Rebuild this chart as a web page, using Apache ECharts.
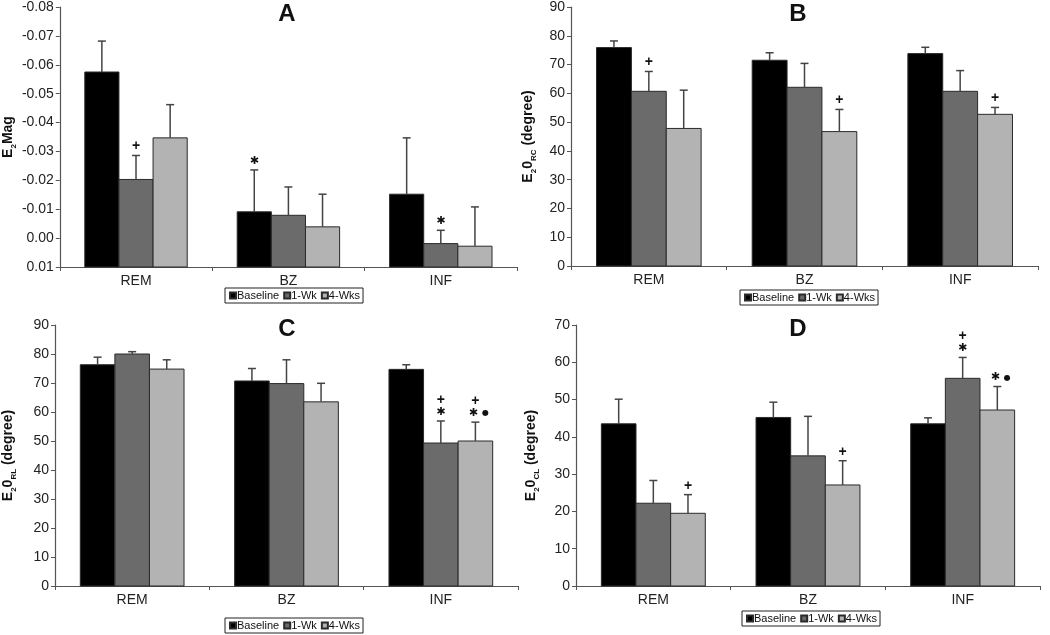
<!DOCTYPE html>
<html>
<head>
<meta charset="utf-8">
<script src="https://cdn.jsdelivr.net/npm/echarts@6/dist/echarts.min.js"></script>
<style>html,body{margin:0;padding:0;background:#fff}#c{width:1050px;height:635px}</style>
</head>
<body>
<div id="c"></div>
<script>
const categories = ['REM', 'BZ', 'INF'];
const seriesNames = ['Baseline', '1-Wk', '4-Wks'];

// Panel A (E2Mag, reversed axis)
const A_baseline = [-0.0575, -0.0091, -0.0152];
const A_baselineErr = [-0.0682, -0.0236, -0.0347];
const A_week1 = [-0.0203, -0.0079, 0.0019];
const A_week1Err = [-0.0286, -0.0177, -0.0027];
const A_weeks4 = [-0.0347, -0.0039, 0.0028];
const A_weeks4Err = [-0.0462, -0.0152, -0.0108];
const A_marks = [['', '*', ''], ['+', '', '*'], ['', '', '']];
const A_ticks = [-0.08, -0.07, -0.06, -0.05, -0.04, -0.03, -0.02, -0.01, 0.00, 0.01];

// Panel B (E2θRC)
const B_baseline = [75.9, 71.5, 73.8];
const B_baselineErr = [78.2, 74.1, 76.0];
const B_week1 = [60.7, 62.1, 60.7];
const B_week1Err = [67.6, 70.4, 67.9];
const B_weeks4 = [47.8, 46.7, 52.7];
const B_weeks4Err = [61.1, 54.4, 55.1];
const B_marks = [['', '', ''], ['+', '', ''], ['', '+', '+']];
const B_ticks = [0, 10, 20, 30, 40, 50, 60, 70, 80, 90];

// Panel C (E2θRL)
const C_baseline = [76.3, 70.7, 74.7];
const C_baselineErr = [78.9, 75.0, 76.3];
const C_week1 = [80.0, 69.8, 49.3];
const C_week1Err = [80.8, 78.0, 56.9];
const C_weeks4 = [74.8, 63.5, 50.0];
const C_weeks4Err = [78.0, 69.9, 56.5];
const C_marks = [['', '', ''], ['', '', '+\n*'], ['', '', '+\n*●']];
const C_ticks = [0, 10, 20, 30, 40, 50, 60, 70, 80, 90];

// Panel D (E2θCL)
const D_baseline = [43.5, 45.2, 43.5];
const D_baselineErr = [50.1, 49.3, 45.1];
const D_week1 = [22.2, 34.9, 55.7];
const D_week1Err = [28.3, 45.5, 61.3];
const D_weeks4 = [19.5, 27.1, 47.2];
const D_weeks4Err = [24.5, 33.6, 53.5];
const D_marks = [['', '', ''], ['', '', '+\n*'], ['+', '+', '*●']];
const D_ticks = [0, 10, 20, 30, 40, 50, 60, 70];

const barColors = ['#000000', '#6b6b6b', '#b3b3b3'];
const FONT = 'Liberation Sans, Arial, sans-serif';

const panels = [
  { title: 'A', vals: [A_baseline, A_week1, A_weeks4], errs: [A_baselineErr, A_week1Err, A_weeks4Err], marks: A_marks, ticks: A_ticks, inverse: true, base: 0.01,
    grid: { left: 58, right: 533, top: 7, bottom: 368 }, name: '{b|E}{s|2}{b|Mag}', nameGap: 44, legend: { left: 225, top: 288 }, titlePos: [287, 14], dec: 2 },
  { title: 'B', vals: [B_baseline, B_week1, B_weeks4], errs: [B_baselineErr, B_week1Err, B_weeks4Err], marks: B_marks, ticks: B_ticks, inverse: false, base: 0,
    grid: { left: 571, right: 12, top: 6, bottom: 369 }, name: '{b|E}{s|2}{b|0}{s|RC}{b| (degree)}', nameGap: 36, legend: { left: 740, top: 290 }, titlePos: [798, 14], dec: 0 },
  { title: 'C', vals: [C_baseline, C_week1, C_weeks4], errs: [C_baselineErr, C_week1Err, C_weeks4Err], marks: C_marks, ticks: C_ticks, inverse: false, base: 0,
    grid: { left: 53, right: 532, top: 325, bottom: 49 }, name: '{b|E}{s|2}{b|0}{s|RL}{b| (degree)}', nameGap: 40, legend: { left: 225, top: 618 }, titlePos: [287, 329], dec: 0 },
  { title: 'D', vals: [D_baseline, D_week1, D_weeks4], errs: [D_baselineErr, D_week1Err, D_weeks4Err], marks: D_marks, ticks: D_ticks, inverse: false, base: 0,
    grid: { left: 576, right: 10, top: 325, bottom: 49 }, name: '{b|E}{s|2}{b|0}{s|CL}{b| (degree)}', nameGap: 38, legend: { left: 742, top: 611 }, titlePos: [798, 329], dec: 0 }
];

function makeRender(p, s) {
  const P = panels[p];
  return function (params, api) {
    const ci = api.value(0), v = api.value(1), e = api.value(2);
    const bandW = api.size([1, 0])[0];
    const barW = bandW * 0.224;
    const basePt = api.coord([ci, P.base]);
    const cx = basePt[0] + (s - 1) * barW;
    const topY = api.coord([ci, v])[1];
    const errY = api.coord([ci, e])[1];
    const y0 = Math.min(basePt[1], topY), h = Math.abs(basePt[1] - topY);
    const children = [
      { type: 'rect', shape: { x: cx - barW / 2, y: y0, width: barW, height: h },
        style: { fill: barColors[s], stroke: '#2a2a2a', lineWidth: 1 } },
      { type: 'line', shape: { x1: cx, y1: topY, x2: cx, y2: errY }, style: { stroke: '#444', lineWidth: 1.5 } },
      { type: 'line', shape: { x1: cx - 4, y1: errY, x2: cx + 4, y2: errY }, style: { stroke: '#444', lineWidth: 1.5 } }
    ];
    const m = P.marks[s][params.dataIndex];
    if (m) {
      const lines = m.split('\n');
      lines.forEach(function (line, i) {
        const y = errY - 9 - (lines.length - 1 - i) * 12;
        const glyphs = line.split('');
        const xs = glyphs.length === 2 ? [cx - 2, cx + 10] : [cx];
        glyphs.forEach(function (g, k) {
          let font = 'bold 14px ' + FONT, txt = g;
          if (g === '*') { txt = '\u2731'; font = '11px DejaVu Sans'; }
          if (g === '●') { font = '8px DejaVu Sans'; }
          children.push({ type: 'text', style: { text: txt, x: xs[k], y: y, align: 'center', verticalAlign: 'middle', font: font, fill: '#111' } });
        });
      });
    }
    return { type: 'group', children: children };
  };
}

const option = {
  animation: false,
  backgroundColor: '#fff',
  grid: panels.map(P => P.grid),
  xAxis: panels.map((P, i) => ({
    type: 'category', gridIndex: i, data: categories,
    axisLine: { onZero: false, lineStyle: { color: '#555', width: 1.2 } },
    axisTick: { show: true, length: 4, lineStyle: { color: '#555' } },
    axisLabel: { fontFamily: FONT, fontSize: 14, color: '#222', margin: 7 }
  })),
  yAxis: panels.map((P, i) => ({
    type: 'value', gridIndex: i, inverse: P.inverse,
    min: P.ticks[0], max: P.ticks[P.ticks.length - 1], interval: P.ticks[1] - P.ticks[0],
    splitLine: { show: false },
    axisLine: { show: true, lineStyle: { color: '#555', width: 1.2 } },
    axisTick: { show: true, length: 4, lineStyle: { color: '#555' } },
    axisLabel: { fontFamily: FONT, fontSize: 14, color: '#222', margin: 6,
      formatter: function (v) { return Math.abs(v) < 1e-9 ? (P.dec ? '0.00' : '0') : v.toFixed(P.dec); } },
    name: P.name, nameLocation: 'middle', nameGap: P.nameGap, nameRotate: 90,
    nameTextStyle: { rich: {
      b: { fontFamily: FONT, fontWeight: 'bold', fontSize: 14, color: '#111', verticalAlign: 'bottom', lineHeight: 16 },
      s: { fontFamily: FONT, fontWeight: 'bold', fontSize: 8, color: '#111', verticalAlign: 'bottom', lineHeight: 10, padding: [0, 0, -3, 0] }
    } }
  })),
  legend: panels.map(P => ({
    left: P.legend.left, top: P.legend.top, data: seriesNames,
    icon: 'rect', itemWidth: 6, itemHeight: 6, itemGap: 4,
    borderColor: '#222', borderWidth: 1, padding: [2, 3, 2, 4],
    selectedMode: false,
    textStyle: { fontFamily: FONT, fontSize: 11, color: '#111', padding: [0, 0, 0, -4] }
  })),
  graphic: panels.map(P => ({
    type: 'text', x: P.titlePos[0], y: P.titlePos[1],
    style: { text: P.title, font: 'bold 24px ' + FONT, fill: '#111', align: 'center', verticalAlign: 'middle' }
  })),
  series: []
};

panels.forEach(function (P, p) {
  for (let s = 0; s < 3; s++) {
    option.series.push({
      type: 'custom', name: seriesNames[s], xAxisIndex: p, yAxisIndex: p,
      itemStyle: { color: barColors[s], borderColor: '#2a2a2a', borderWidth: 1 },
      encode: { x: 0, y: [1, 2] },
      data: categories.map((c, i) => [i, P.vals[s][i], P.errs[s][i]]),
      renderItem: makeRender(p, s)
    });
  }
});

const chart = echarts.init(document.getElementById('c'), null, { renderer: 'canvas' });
chart.setOption(option);
</script>
</body>
</html>
